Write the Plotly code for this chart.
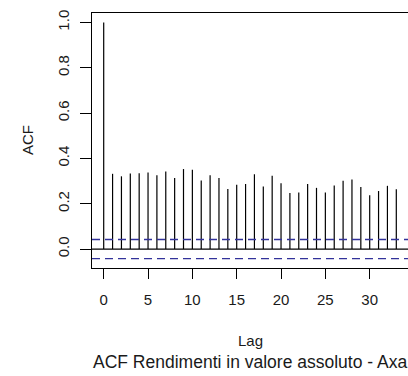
import plotly.graph_objects as go

lags = list(range(0, 34))
acf_values = [1.0, 0.332, 0.321, 0.333, 0.335, 0.338, 0.326, 0.342, 0.314, 0.353,
              0.350, 0.302, 0.326, 0.313, 0.265, 0.284, 0.287, 0.330, 0.276, 0.323,
              0.290, 0.247, 0.250, 0.287, 0.270, 0.250, 0.280, 0.301, 0.307, 0.274,
              0.237, 0.256, 0.279, 0.264]
conf_limit = 0.042
x_ticks = [0, 5, 10, 15, 20, 25, 30]
y_ticks = [0.0, 0.2, 0.4, 0.6, 0.8, 1.0]
title_text = "ACF Rendimenti in valore assoluto - Axa"
x_label = "Lag"
y_label = "ACF"

FONT = "Liberation Sans, Arial, sans-serif"
TXT = "#1a1a1a"

xs, ys = [], []
for l, v in zip(lags, acf_values):
    xs += [l, l, None]
    ys += [0, v, None]

xmin, xmax = min(lags), max(lags)
xpad = (xmax - xmin) * 0.04
ymin, ymax = -conf_limit, max(acf_values)
ypad = (ymax - ymin) * 0.04

fig = go.Figure()
fig.add_trace(go.Scatter(x=xs, y=ys, mode="lines",
                         line=dict(color="black", width=1.2),
                         hoverinfo="skip", showlegend=False))

xr = [xmin - xpad, xmax + xpad]
fig.add_shape(type="line", x0=0, x1=1, xref="paper", y0=0, y1=0, yref="y",
              line=dict(color="black", width=1.2))
for c in (conf_limit, -conf_limit):
    fig.add_shape(type="line", x0=0, x1=1, xref="paper", y0=c, y1=c, yref="y",
                  line=dict(color="#32329a", width=1.3, dash="8px,5px"))

fig.update_layout(
    width=408, height=376,
    margin=dict(l=92, r=0, t=13, b=108),
    paper_bgcolor="white", plot_bgcolor="white",
    font=dict(family=FONT, size=15, color=TXT),
    showlegend=False,
    xaxis=dict(range=xr, tickvals=x_ticks, ticks="outside", ticklen=10,
               tickcolor="black", tickwidth=1.2, showgrid=False, zeroline=False,
               showline=True, linecolor="black", linewidth=1.3, mirror=True,
               ticklabelstandoff=8,
               tickfont=dict(size=15, family=FONT, color=TXT)),
    yaxis=dict(range=[ymin - ypad, ymax + ypad], tickvals=y_ticks,
               ticktext=[f"{t:.1f}" for t in y_ticks], tickangle=-90,
               ticks="outside", ticklen=11, tickcolor="black", tickwidth=1.2,
               showgrid=False, zeroline=False, showline=True, linecolor="black",
               linewidth=1.3, mirror=True, ticklabelstandoff=5,
               tickfont=dict(size=15, family=FONT, color=TXT)),
)

fig.add_annotation(text=x_label, xref="paper", yref="paper", x=(250 - 92) / 316,
                   y=(268 - 341) / 255, showarrow=False, xanchor="center",
                   yanchor="middle", font=dict(size=15, family=FONT, color=TXT))
fig.add_annotation(text=title_text, xref="paper", yref="paper", x=(250 - 92) / 316,
                   y=(268 - 362) / 255, showarrow=False, xanchor="center",
                   yanchor="middle", font=dict(size=17.5, family=FONT, color=TXT))
fig.add_annotation(text=y_label, xref="paper", yref="paper", x=(27 - 92) / 316,
                   y=(268 - 140) / 255, showarrow=False, textangle=-90,
                   xanchor="center", yanchor="middle",
                   font=dict(size=15, family=FONT, color=TXT))

fig.write_html("out.html")
